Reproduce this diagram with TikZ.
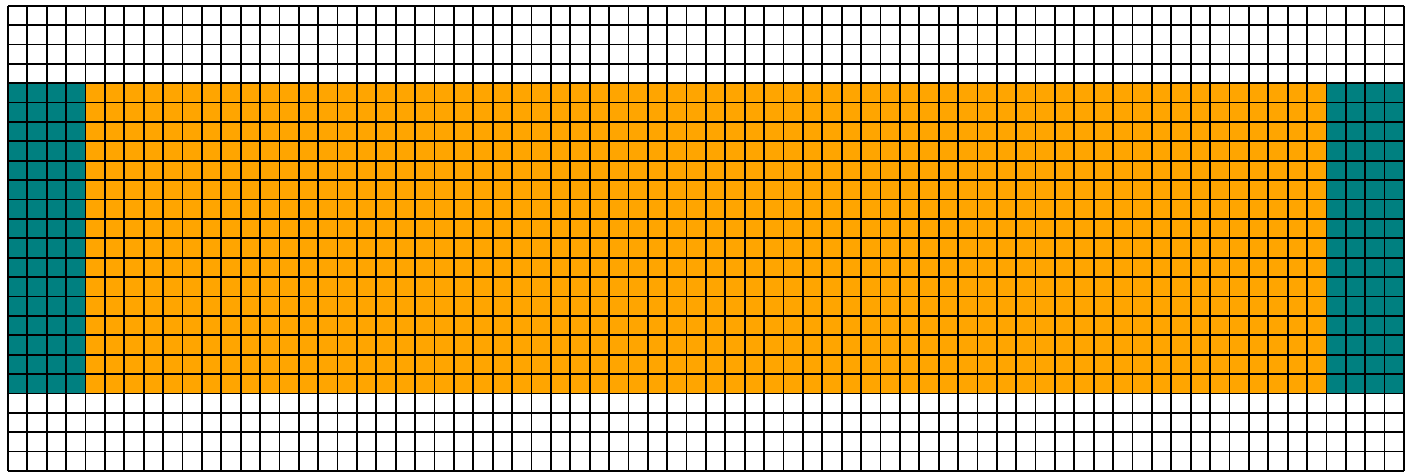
\documentclass[tikz,border=0pt]{standalone}
\usetikzlibrary{positioning}
\definecolor{cellteal}{HTML}{008080}
\definecolor{cellorange}{HTML}{FFA500}

\begin{document}
\begin{tikzpicture}[
  x=0.5cm,y=0.5cm,
  gridline/.style={draw=black,line width=1.3pt,step=0.5cm},
  edgecol/.style={fill=cellteal},
  bulk/.style={fill=cellorange},
]
\useasboundingbox (-0.41,-0.05) rectangle (72.26,24.29);

% ---------- coloured band: 16 rows, teal end columns ----------
\fill[bulk] (4,4) rectangle (68,20);
\foreach \xa in {0,68}{
  \fill[edgecol] (\xa,4) rectangle ++(4,16);
}

% ---------- 72 x 24 cell grid ----------
\draw[gridline] (0,0) grid (72,24);

\end{tikzpicture}
\end{document}
